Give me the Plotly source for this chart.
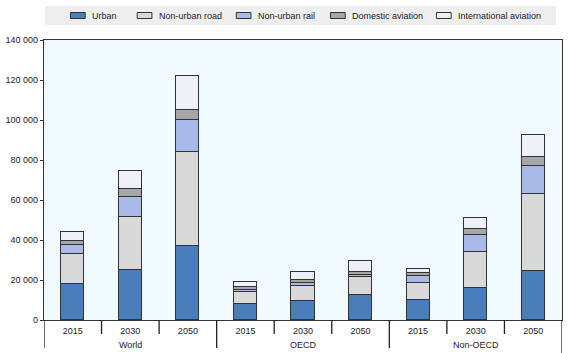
import plotly.graph_objects as go

years = ["2015", "2030", "2050"]
regions = ["World", "OECD", "Non-OECD"]
series_names = ["Urban", "Non-urban road", "Non-urban rail", "Domestic aviation", "International aviation"]

# values per bar, order: World 2015/2030/2050, OECD ..., Non-OECD ...
urban = [18000, 25200, 37000, 8000, 9500, 12700, 10000, 15800, 24500]
non_urban_road = [14800, 26300, 47200, 6200, 7700, 8600, 8700, 18400, 38300]
non_urban_rail = [4500, 9800, 15600, 800, 1100, 1200, 3300, 8300, 14200]
domestic_aviation = [2200, 4000, 5400, 1500, 1700, 1500, 1300, 3200, 4700]
international_aviation = [4500, 9400, 16800, 2700, 4000, 5700, 2000, 5100, 10800]

y_ticks = [0, 20000, 40000, 60000, 80000, 100000, 120000, 140000]
y_tick_text = ["0", "20 000", "40 000", "60 000", "80 000", "100 000", "120 000", "140 000"]

colors = ["#4a7ebb", "#d9d9d9", "#a9b9e8", "#a6a6a6", "#eef1f8"]
values = [urban, non_urban_road, non_urban_rail, domestic_aviation, international_aviation]

n = len(regions) * len(years)
xpos = list(range(n))
xlabels = [y for r in regions for y in years]

fig = go.Figure()
for name, vals, col in zip(series_names, values, colors):
    fig.add_trace(go.Bar(
        x=xpos, y=vals, name=name, width=0.4, showlegend=False,
        marker=dict(color=col, line=dict(color="#333333", width=1)),
    ))

FONT = "Liberation Sans, Arial, sans-serif"
L, T, W, H = 35.0, 40.0, 528.0, 280.0


def px_x(p):
    return (p - L) / W


def px_y(p):
    return (T + H - p) / H


shapes = []
annotations = []
# legend background band
shapes.append(dict(type="rect", xref="paper", yref="paper", x0=px_x(36), x1=px_x(557),
                   y0=px_y(25), y1=px_y(6),
                   fillcolor="#eeeeee", line=dict(width=0), layer="below"))
# legend entries (swatch + label)
swatch_left = [62, 130, 231, 327, 435]
for name, col, sx in zip(series_names, colors, swatch_left):
    shapes.append(dict(type="rect", xref="paper", yref="paper",
                       x0=px_x(sx), x1=px_x(sx + 15), y0=px_y(18.5), y1=px_y(12.5),
                       fillcolor=col, line=dict(color="#333333", width=1)))
    annotations.append(dict(x=px_x(sx + 20), y=px_y(15.5), xref="paper", yref="paper",
                            text=name, showarrow=False, xanchor="left", yanchor="middle",
                            font=dict(family=FONT, size=9, color="#222222")))

# category dividers below the axis
for i in range(n + 1):
    xb = i - 0.5
    if i == n:
        depth = 34 / H
    elif i % len(years) == 0:
        depth = 28 / H
    else:
        depth = 14 / H
    shapes.append(dict(type="line", xref="x", yref="paper", x0=xb, x1=xb,
                       y0=0, y1=-depth, line=dict(color="#222222", width=1.3)))

for k, r in enumerate(regions):
    annotations.append(dict(x=k * len(years) + 1, y=-25 / H, xref="x", yref="paper",
                            text=r, showarrow=False, yanchor="middle",
                            font=dict(family=FONT, size=9, color="#222222")))

fig.update_layout(
    width=569, height=353,
    margin=dict(l=35, r=6, t=40, b=33),
    barmode="stack",
    paper_bgcolor="white",
    plot_bgcolor="#f1fbff",
    bargap=0,
    showlegend=False,
    font=dict(family=FONT, size=9, color="#222222"),
    shapes=shapes,
    annotations=annotations,
    xaxis=dict(range=[-0.5, n - 0.5], tickvals=xpos, ticktext=xlabels, ticks="",
               showline=True, linecolor="#333333", linewidth=1.3, mirror=True,
               showgrid=False, zeroline=False, tickfont=dict(size=9), ticklabelstandoff=2),
    yaxis=dict(range=[0, 140000], tickvals=y_ticks, ticktext=y_tick_text, ticks="outside",
               ticklen=3, tickcolor="#333333", showline=True, linecolor="#333333", linewidth=1.3,
               mirror=True, showgrid=False, zeroline=False, tickfont=dict(size=9)),
)

fig.write_html("out.html")
